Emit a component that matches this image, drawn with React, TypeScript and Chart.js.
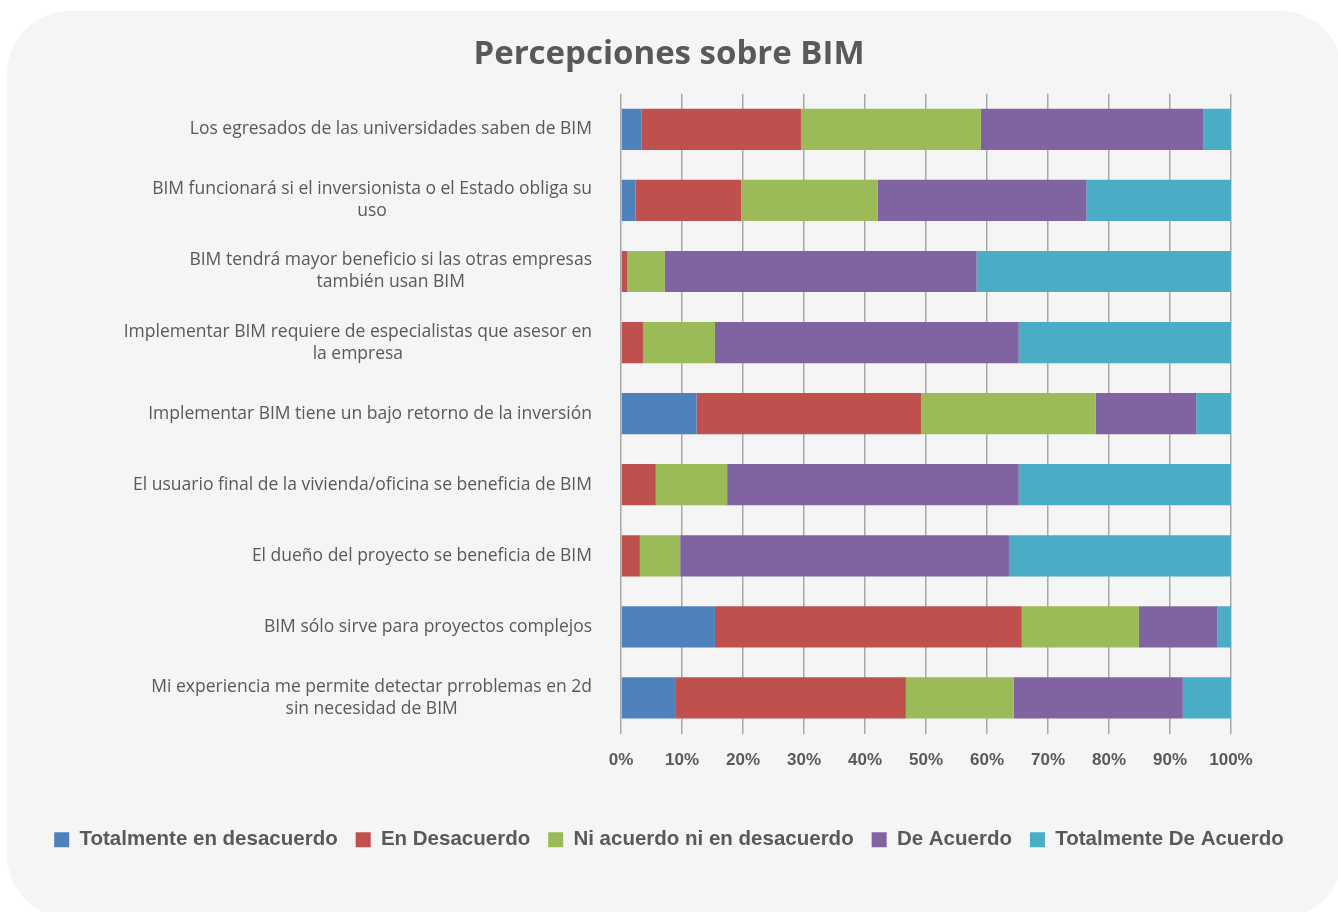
import React, { useEffect, useRef } from "react";
import { Chart, registerables } from "chart.js";

Chart.register(...registerables);

const chartTitle = "Percepciones sobre BIM";

const categories: (string | string[])[] = [
  "Los egresados de las universidades saben de BIM",
  ["BIM funcionará si el inversionista o el Estado obliga su", "uso"],
  ["BIM tendrá mayor beneficio si las otras empresas", "también usan BIM"],
  ["Implementar BIM requiere de especialistas que asesor en", "la empresa"],
  "Implementar BIM tiene un bajo retorno de la inversión",
  "El usuario final de la vivienda/oficina se beneficia de BIM",
  "El dueño del proyecto se beneficia de BIM",
  "BIM sólo sirve para proyectos complejos",
  ["Mi experiencia me permite detectar prroblemas en 2d", "sin necesidad de BIM"],
];

const seriesNames = [
  "Totalmente en desacuerdo",
  "En Desacuerdo",
  "Ni acuerdo ni en desacuerdo",
  "De Acuerdo",
  "Totalmente De Acuerdo",
];

const totalmenteDesacuerdo = [3.4, 2.4, 0, 0, 12.4, 0, 0, 15.4, 9.0];
const enDesacuerdo = [26.1, 17.3, 1.0, 3.6, 36.8, 5.7, 3.1, 50.3, 37.7];
const niAcuerdo = [29.5, 22.4, 6.2, 11.8, 28.6, 11.7, 6.6, 19.2, 17.7];
const deAcuerdo = [36.5, 34.2, 51.1, 49.8, 16.5, 47.8, 53.9, 12.9, 27.7];
const totalmenteAcuerdo = [4.5, 23.7, 41.7, 34.8, 5.7, 34.8, 36.4, 2.2, 7.9];

const seriesValues = [totalmenteDesacuerdo, enDesacuerdo, niAcuerdo, deAcuerdo, totalmenteAcuerdo];
const seriesColors = ["#4f81bd", "#c0504d", "#9bbb59", "#8064a2", "#4bacc6"];

const xTickStep = 10;
const xTickSuffix = "%";

export default function App() {
  const canvasRef = useRef<HTMLCanvasElement>(null);

  useEffect(() => {
    let chart: Chart | null = null;
    let cancelled = false;

    const labelPlugin = {
      id: "categoryLabels",
      afterDraw(c: any) {
        const ctx = c.ctx;
        const ys = c.scales.y;
        const right = c.chartArea.left - 29;
        ctx.save();
        ctx.font = '17.5px "Open Sans"';
        ctx.fillStyle = "#595959";
        ctx.textAlign = "center";
        ctx.textBaseline = "middle";
        categories.forEach((lab, i) => {
          const lines = Array.isArray(lab) ? lab : [lab];
          const w = Math.max(...lines.map((l) => ctx.measureText(l).width));
          const cx = right - w / 2;
          const cy = ys.getPixelForValue(i);
          lines.forEach((l, j) => {
            ctx.fillText(l, cx, cy + (j - (lines.length - 1) / 2) * 22);
          });
        });
        ctx.restore();
      },
    };

    const create = () => {
      if (cancelled || !canvasRef.current) return;
      chart = new Chart(canvasRef.current, {
        type: "bar",
        data: {
          labels: categories.map((c) => (Array.isArray(c) ? c.join(" ") : c)),
          datasets: seriesNames.map((name, i) => ({
            label: name,
            data: seriesValues[i],
            backgroundColor: seriesColors[i],
            borderWidth: 0,
            barPercentage: 0.58,
            categoryPercentage: 1.0,
          })),
        },
        options: {
          indexAxis: "y",
          responsive: false,
          animation: false,
          devicePixelRatio: 1,
          layout: { padding: { top: 0, bottom: 52, left: 0, right: 0 } },
          scales: {
            x: {
              stacked: true,
              min: 0,
              max: 100,
              grid: { color: "#a8a8a8", lineWidth: 1.5, drawTicks: false },
              border: { display: false },
              ticks: {
                stepSize: xTickStep,
                callback: (v: any) => v + xTickSuffix,
                color: "#595959",
                font: { family: "Liberation Sans", weight: "bold", size: 17 },
                padding: 17,
              },
              afterFit(s: any) {
                s.height = 78;
              },
            },
            y: {
              stacked: true,
              grid: { display: false },
              border: { display: false },
              ticks: { display: false },
              afterFit(s: any) {
                s.width = 621;
              },
            },
            yr: {
              type: "linear",
              position: "right",
              display: true,
              grid: { display: false },
              border: { display: false },
              ticks: { display: false },
              afterFit(s: any) {
                s.width = 107;
              },
            },
          },
          plugins: {
            title: {
              display: true,
              text: chartTitle,
              color: "#595959",
              font: { family: "Open Sans", weight: "bold", size: 33, lineHeight: 1.2 },
              padding: { top: 35, bottom: 19.2 },
            },
            legend: {
              position: "bottom",
              labels: {
                boxWidth: 15,
                boxHeight: 15,
                padding: 18,
                color: "#595959",
                font: { family: "Liberation Sans", weight: "bold", size: 20.5 },
              },
            },
            tooltip: { enabled: false },
          },
        },
        plugins: [labelPlugin],
      } as any);
    };

    const fontLoads = [
      '17.5px "Open Sans"',
      'bold 33px "Open Sans"',
      'bold 20px "Liberation Sans"',
      'bold 17px "Liberation Sans"',
    ].map((f) => (document as any).fonts.load(f).catch(() => null));
    Promise.all(fontLoads).then(create, create);

    return () => {
      cancelled = true;
      if (chart) chart.destroy();
    };
  }, []);

  return (
    <div
      style={{
        position: "fixed",
        left: 0,
        top: 0,
        width: 1338,
        height: 912,
        background: "#ffffff",
        overflow: "hidden",
      }}
    >
      <div
        style={{
          position: "absolute",
          left: 7,
          top: 11,
          width: 1336,
          height: 907,
          borderRadius: 63,
          background: "#f5f5f5",
        }}
      />
      <canvas
        ref={canvasRef}
        width={1338}
        height={912}
        style={{ position: "absolute", left: 0, top: 0, width: 1338, height: 912 }}
      />
    </div>
  );
}
